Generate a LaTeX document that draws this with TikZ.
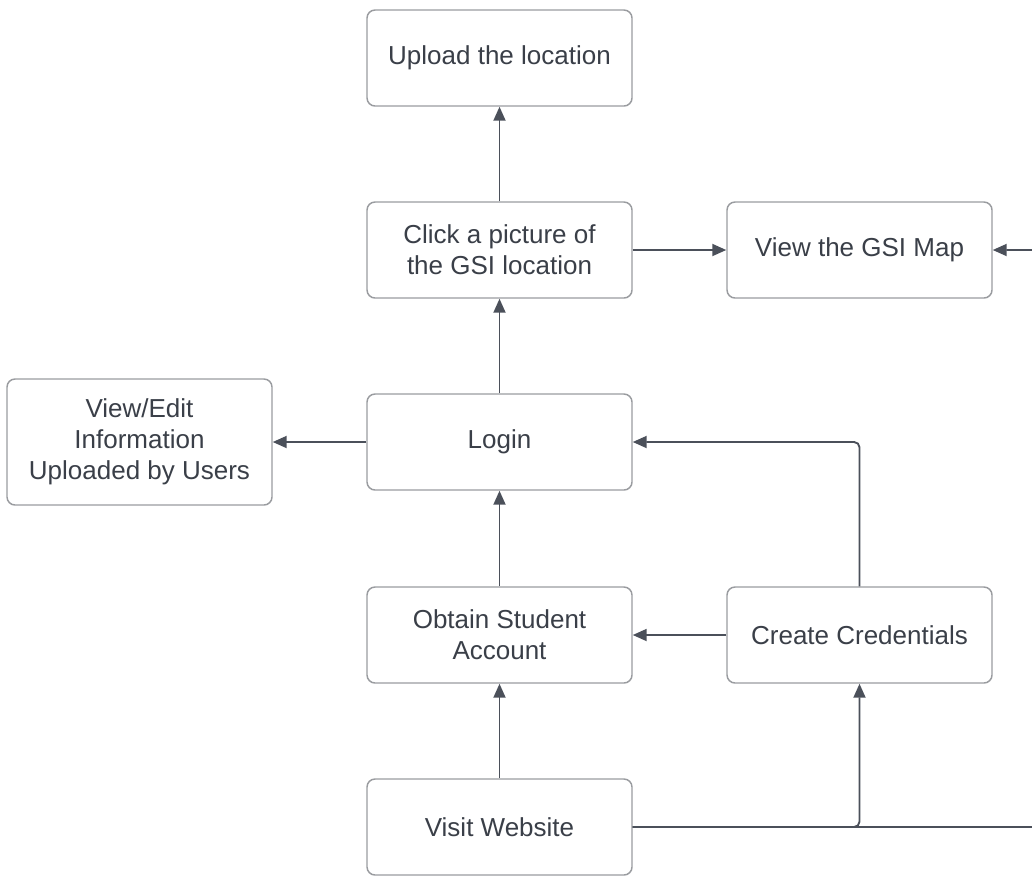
\documentclass[tikz,border=0pt]{standalone}
\usepackage{fontspec}
\setmainfont{Liberation Sans}
\usetikzlibrary{arrows.meta}
\definecolor{boxline}{HTML}{9A9CA0}
\definecolor{textgrey}{HTML}{3A3F48}
\definecolor{linegrey}{HTML}{4B505A}
\begin{document}
\begin{tikzpicture}[x=0.75pt,y=-0.75pt,
                    step node/.style={draw=boxline,line width=1.1pt,rounded corners=6pt,fill=white,
                      text=textgrey,align=center,minimum width=198.75pt,minimum height=72pt,
                      font=\fontsize{19.5}{23.4}\selectfont},
                    arrow line/.style={draw=linegrey,line width=1.4pt,rounded corners=4pt,
                      -{Triangle[length=10.5pt,width=9pt]}}
                   ]
  \clip (0,0) rectangle (1032,876);
  \node[step node] (upload) at (499.5,58) {Upload the location};
  \node[step node] (click) at (499.5,250) {Click a picture of\\the GSI location};
  \node[step node] (map) at (859.5,250) {View the GSI Map};
  \node[step node,minimum height=94.5pt] (viewedit) at (139.5,442) {View/Edit\\Information\\Uploaded by Users};
  \node[step node] (login) at (499.5,442) {Login};
  \node[step node] (obtain) at (499.5,635) {Obtain Student\\Account};
  \node[step node] (create) at (859.5,635) {Create Credentials};
  \node[step node] (visit) at (499.5,827) {Visit Website};
  \coordinate (offpage) at (1060,827);

  \path%
   (visit) edge [arrow line] (obtain)
   (obtain) edge [arrow line] (login)
   (login) edge [arrow line] (click)
   (click) edge [arrow line] (upload)
   (login) edge [arrow line] (viewedit)
   (create) edge [arrow line] (obtain)
   (click) edge [arrow line] (map);
  \draw[arrow line] (create.north) |- (login.east);
  \draw[arrow line] (visit.east) -| (create.south);
  \draw[arrow line] (visit.east) -- (offpage) |- (map.east);
\end{tikzpicture}
\end{document}
